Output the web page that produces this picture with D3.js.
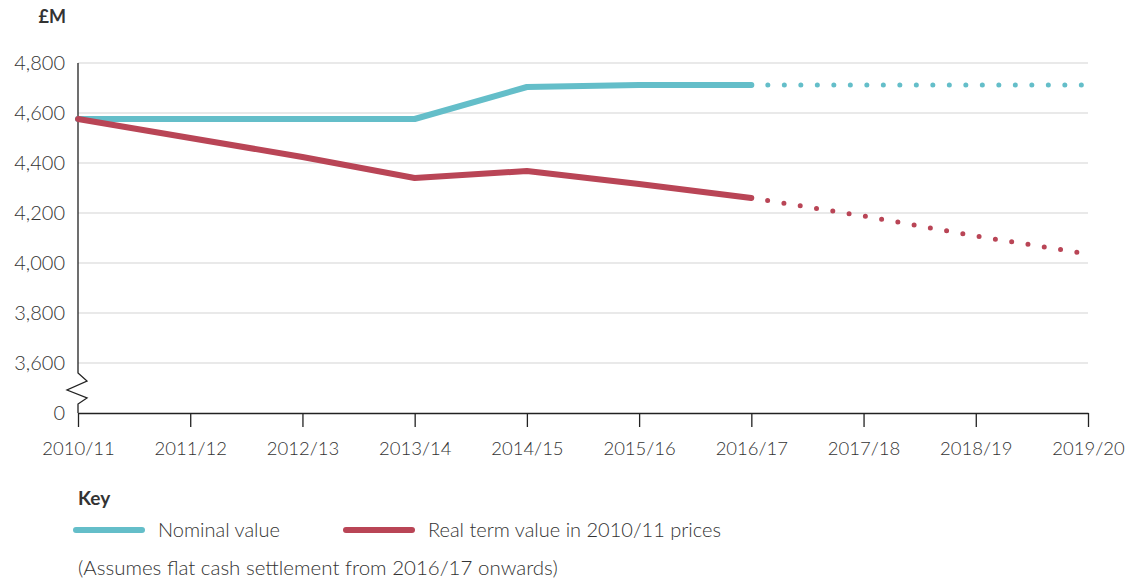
<!DOCTYPE html>
<html>
<head>
<meta charset="utf-8">
<script src="https://cdn.jsdelivr.net/npm/d3@7"></script>
<style>
body { margin: 0; background: #fff; }
text { font-family: Lato, "Open Sans", sans-serif; fill: #333; font-weight: 300; }
</style>
</head>
<body>
<script>
// data
var years = ["2010/11", "2011/12", "2012/13", "2013/14", "2014/15", "2015/16", "2016/17", "2017/18", "2018/19", "2019/20"];
var nominal = [4576, 4576, 4576, 4576, 4704, 4712, 4712];
var nominalProj = [4712, 4712, 4712, 4712];
var real = [4576, 4500, 4424, 4340, 4368, 4316, 4260];
var realProj = [4260, 4188, 4108, 4036];
var yTicks = [3400, 3600, 3800, 4000, 4200, 4400, 4600, 4800];   // 3400 slot is shown as 0 (broken axis)

var w = 1140, h = 579;
var teal = "#64bec9", red = "#b94556";

var svg = d3.select("body").append("svg")
    .attr("width", w)
    .attr("height", h);

var x = d3.scalePoint().domain(years).range([78, 1088]);
var y = d3.scaleLinear().domain([3400, 4800]).range([413, 63]);

// gridlines
svg.selectAll("line.grid")
   .data(yTicks.filter(function(d){ return d > 3400; }))
   .enter()
   .append("line")
   .attr("x1", 78).attr("x2", 1088)
   .attr("y1", function(d){ return y(d); })
   .attr("y2", function(d){ return y(d); })
   .attr("stroke", "#d4d4d4")
   .attr("stroke-width", 1.2);

// y labels
svg.selectAll("text.ylab")
   .data(yTicks)
   .enter()
   .append("text")
   .attr("x", 65)
   .attr("y", function(d){ return y(d) + 7; })
   .attr("text-anchor", "end")
   .attr("font-size", 20)
   .text(function(d){ return d == 3400 ? "0" : d3.format(",")(d); });

svg.append("text")
   .attr("x", 66).attr("y", 23)
   .attr("text-anchor", "end")
   .attr("font-size", 18)
   .style("font-weight", "bold")
   .text("£M");

// y axis with break
var yb = y(3600);
svg.append("path")
   .attr("d", "M78," + y(4800) + " V" + (yb + 10) + " L87," + (yb + 18) + " L67," + (yb + 27) +
              " L87," + (yb + 35) + " L78," + (yb + 41) + " V" + y(3400))
   .attr("fill", "none")
   .attr("stroke", "#222")
   .attr("stroke-width", 1.3);

// x axis
var xAxis = d3.axisBottom(x).tickSizeInner(14).tickSizeOuter(0).tickPadding(15);
var gx = svg.append("g")
   .attr("transform", "translate(0," + y(3400) + ")")
   .call(xAxis);
gx.select(".domain").attr("stroke", "#222").attr("stroke-width", 1.3);
gx.selectAll(".tick line").attr("stroke", "#222").attr("stroke-width", 1.3);
gx.selectAll(".tick text")
   .attr("font-size", 18.5)
   .attr("font-family", "Lato, 'Open Sans', sans-serif")
   .attr("fill", "#333");

var line = d3.line()
   .x(function(d){ return x(d[0]); })
   .y(function(d){ return y(d[1]); });

function pairs(vals, start) {
    return vals.map(function(v, i){ return [years[start + i], v]; });
}

// projections (dotted)
svg.append("path")
   .attr("d", line(pairs(nominalProj, 6)))
   .attr("fill", "none").attr("stroke", teal)
   .attr("stroke-width", 5).attr("stroke-linecap", "round")
   .attr("stroke-dasharray", "0 16.5");
svg.append("path")
   .attr("d", line(pairs(realProj, 6)))
   .attr("fill", "none").attr("stroke", red)
   .attr("stroke-width", 5).attr("stroke-linecap", "round")
   .attr("stroke-dasharray", "0 16.5");

// actual lines
svg.append("path")
   .attr("d", line(pairs(nominal, 0)))
   .attr("fill", "none").attr("stroke", teal)
   .attr("stroke-width", 6).attr("stroke-linecap", "round").attr("stroke-linejoin", "round");
svg.append("path")
   .attr("d", line(pairs(real, 0)))
   .attr("fill", "none").attr("stroke", red)
   .attr("stroke-width", 6).attr("stroke-linecap", "round").attr("stroke-linejoin", "round");

// key
svg.append("text")
   .attr("x", 78).attr("y", 505)
   .attr("font-size", 19)
   .style("font-weight", "bold")
   .text("Key");

var keys = [["Nominal value", teal, 76], ["Real term value in 2010/11 prices", red, 346]];
keys.forEach(function(k) {
    svg.append("line")
       .attr("x1", k[2]).attr("x2", k[2] + 66)
       .attr("y1", 530).attr("y2", 530)
       .attr("stroke", k[1]).attr("stroke-width", 6)
       .attr("stroke-linecap", "round");
    svg.append("text")
       .attr("x", k[2] + 82).attr("y", 537)
       .attr("font-size", 20)
       .text(k[0]);
});

svg.append("text")
   .attr("x", 78).attr("y", 575)
   .attr("font-size", 20.5)
   .text("(Assumes flat cash settlement from 2016/17 onwards)");
</script>
</body>
</html>
